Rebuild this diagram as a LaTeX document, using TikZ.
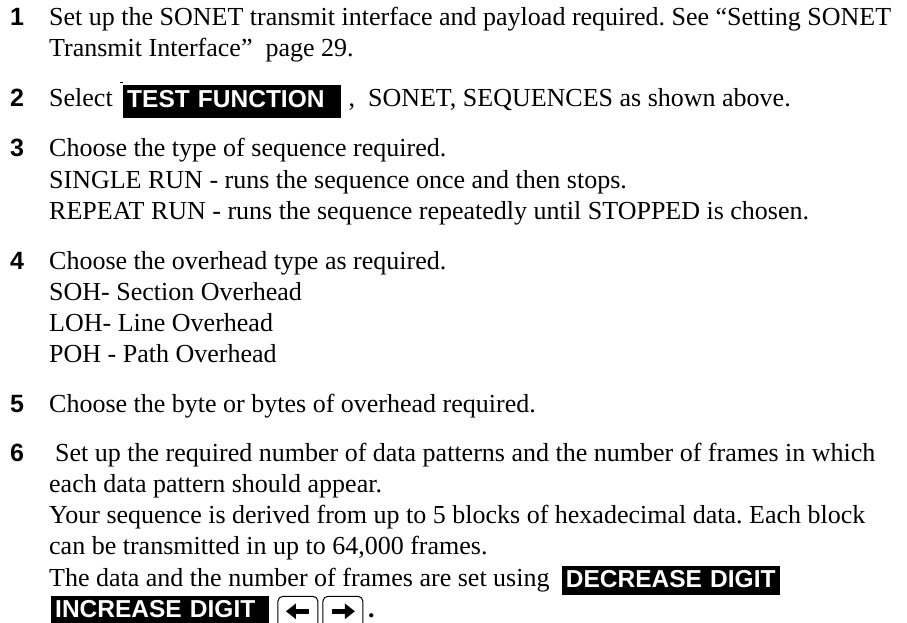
\documentclass[tikz,border=0pt]{standalone}
\usepackage{fontspec}
\setmainfont{Liberation Serif}
\newfontfamily\keyfont{Liberation Sans}
\usetikzlibrary{arrows.meta,positioning}
\frenchspacing
\begin{document}
\begin{tikzpicture}[x=1pt,y=-1pt,
	txt/.style={anchor=base west, inner sep=0pt, font=\fontsize{26}{31}\selectfont},
	num/.style={anchor=base west, inner sep=0pt, font=\keyfont\bfseries\fontsize{25}{30}\selectfont},
	key/.style={anchor=base west, fill=black, text=white, inner xsep=4pt, inner ysep=3pt,
		text width=210pt, text height=18pt, text depth=5pt,
		font=\keyfont\bfseries\fontsize{24.5}{29}\selectfont},
	arrkey/.style={draw, line width=1pt, rounded corners=5pt, anchor=north west,
		minimum width=40pt, minimum height=36pt, inner sep=0pt},
	blk/.style={line width=5pt, -{Triangle[length=10pt, width=15pt]}}]
	\path[use as bounding box, fill=white] (0,0) rectangle (907,623);

	% step 1
	\node[num] (n1) at (10,26) {1};
	\node[txt] (l1) at (49,26) {Set up the SONET transmit interface and payload required. See “Setting SONET};
	\node[txt] (l2) at (49,57) {Transmit Interface”\ \ page 29.};

	% step 2
	\node[num] (n2) at (10,107) {2};
	\node[txt] (l3) at (49,107) {Select};
	\node[key, text height=20pt, text depth=7pt] (tf) at (123,108) {TEST FUNCTION};
	\node[txt, anchor=base west] (l3b) at ([xshift=7pt]tf.east |- l3.base) {,\ \ SONET,\ SEQUENCES as shown above.};
	\draw[line width=0.8pt] (120,82) -- (123,82);

	% step 3
	\node[num] (n3) at (10,157) {3};
	\node[txt] (l4) at (49,157) {Choose the type of sequence required.};
	\node[txt] (l5) at (49,188) {SINGLE RUN - runs the sequence once and then stops.};
	\node[txt] (l6) at (49,219) {REPEAT RUN - runs the sequence repeatedly until STOPPED is chosen.};

	% step 4
	\node[num] (n4) at (10,269) {4};
	\node[txt] (l7) at (49,269) {Choose the overhead type as required.};
	\node[txt] (l8) at (49,300) {SOH- Section Overhead};
	\node[txt] (l9) at (49,331) {LOH- Line Overhead};
	\node[txt] (l10) at (49,362) {POH - Path Overhead};

	% step 5
	\node[num] (n5) at (10,412) {5};
	\node[txt] (l11) at (49,412) {Choose the byte or bytes of overhead required.};

	% step 6
	\node[num] (n6) at (10,461) {6};
	\node[txt] (l12) at (55,461) {Set up the required number of data patterns and the number of frames in which};
	\node[txt] (l13) at (49,492) {each data pattern should appear.};
	\node[txt] (l14) at (49,523) {Your sequence is derived from up to 5 blocks of hexadecimal data. Each block};
	\node[txt] (l15) at (49,554) {can be transmitted in up to 64,000 frames.};
	\node[txt] (l16) at (49,586) {The data and the number of frames are set using};
	\node[key, right=12pt of l16.base east, anchor=base west, yshift=-1pt] (dec) {DECREASE DIGIT};
	\node[key] (inc) at (51,617) {INCREASE DIGIT};
	\node[arrkey, right=8pt of inc.north east, anchor=north west] (lk) {};
	\node[arrkey, right=4pt of lk.north east, anchor=north west] (rk) {};
	\draw[blk] ([shift={(11pt,3pt)}]lk.center) -- ([shift={(-12pt,3pt)}]lk.center);
	\draw[blk] ([shift={(-11pt,3pt)}]rk.center) -- ([shift={(12pt,3pt)}]rk.center);
	\node[txt, font=\bfseries\fontsize{26}{31}\selectfont] (dot) at (368,617) {.};
\end{tikzpicture}
\end{document}
